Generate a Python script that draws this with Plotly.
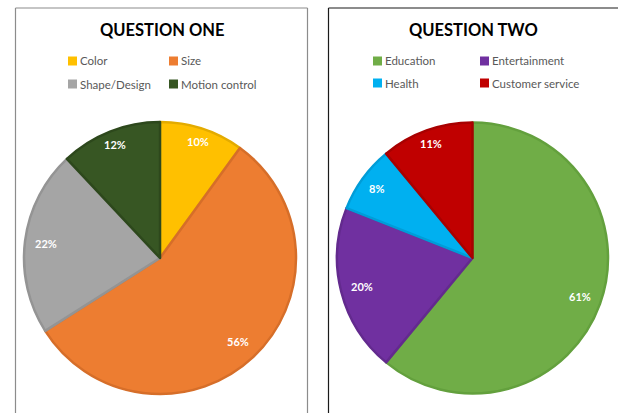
import math
import plotly.graph_objects as go

# Survey results, one pie per question
q1_labels = ["Color", "Size", "Shape/Design", "Motion control"]
q1_values = [10, 56, 22, 12]
q2_labels = ["Education", "Entertainment", "Health", "Customer service"]
q2_values = [61, 20, 8, 11]

q1_colors = ["#FFC000", "#ED7D31", "#A5A5A5", "#375623"]
q1_edges = ["#E3AB00", "#D66E29", "#949494", "#2D481C"]
q2_colors = ["#70AD47", "#7030A0", "#00B0F0", "#C00000"]
q2_edges = ["#63A03D", "#632A8E", "#009DD8", "#A80000"]

W, H = 618, 413
FONT = "Lato, Carlito, Calibri, sans-serif"


def fx(x):
    return x / W


def fy(y):
    return 1 - y / H


panels = [
    dict(title="QUESTION ONE", labels=q1_labels, values=q1_values,
         colors=q1_colors, edges=q1_edges, cx=160, cy=258, r=136,
         title_x=162, leg_sq=[68, 169], rows=[61, 84]),
    dict(title="QUESTION TWO", labels=q2_labels, values=q2_values,
         colors=q2_colors, edges=q2_edges, cx=472.5, cy=258, r=135.5,
         title_x=473, leg_sq=[373, 480], rows=[61, 83]),
]

fig = go.Figure()
annotations = []
shapes = []

for p in panels:
    cx, cy, r = p["cx"], p["cy"], p["r"]
    fig.add_trace(go.Pie(
        labels=p["labels"], values=p["values"],
        sort=False, direction="clockwise", rotation=0,
        marker=dict(colors=p["colors"], line=dict(color=p["edges"], width=2.5)),
        textinfo="none", showlegend=False,
        domain=dict(x=[fx(cx - r), fx(cx + r)], y=[fy(cy + r), fy(cy - r)]),
    ))

    # percentage labels along each slice's mid-angle, pushed a bit further
    # out for slices near the top of the pie
    total = sum(p["values"])
    cum = 0
    for v in p["values"]:
        a = math.radians((cum + v / 2) / total * 360)
        cum += v
        d = r * (0.84 + 0.06 * max(0.0, math.cos(a)))
        annotations.append(dict(
            x=fx(cx + d * math.sin(a)), y=fy(cy - d * math.cos(a)),
            xref="paper", yref="paper", showarrow=False,
            xanchor="center", yanchor="middle",
            text=f"<b>{v}%</b>", font=dict(family=FONT, size=11, color="white"),
        ))

    # panel title
    annotations.append(dict(
        x=fx(p["title_x"]), y=fy(30), xref="paper", yref="paper", showarrow=False,
        xanchor="center", yanchor="middle",
        text=f"<b>{p['title']}</b>", font=dict(family=FONT, size=16.5, color="black"),
    ))

    # two-column legend
    for i, (lab, col) in enumerate(zip(p["labels"], p["colors"])):
        sx = p["leg_sq"][i % 2]
        ry = p["rows"][i // 2]
        shapes.append(dict(
            type="rect", xref="paper", yref="paper",
            x0=fx(sx), x1=fx(sx + 9), y0=fy(ry + 4.5), y1=fy(ry - 4.5),
            fillcolor=col, line=dict(width=0),
        ))
        annotations.append(dict(
            x=fx(sx + 10), y=fy(ry), xref="paper", yref="paper", showarrow=False,
            xanchor="left", yanchor="middle",
            text=lab, font=dict(family=FONT, size=11.5, color="#595959"),
        ))

# chart area frames (bottom and far-right edges run off the page)
for x0, x1, col in [(15.5, 307.5, "#8C8C8C"), (328.5, 640, "#1A1A1A")]:
    for seg in [(x0, 8, x0, 420), (x0, 8, x1, 8), (x1, 8, x1, 420)]:
        shapes.append(dict(
            type="line", xref="paper", yref="paper",
            x0=fx(seg[0]), y0=fy(seg[1]), x1=fx(seg[2]), y1=fy(seg[3]),
            line=dict(color=col, width=1.2),
        ))

fig.update_layout(
    width=W, height=H, autosize=False,
    margin=dict(l=0, r=0, t=0, b=0),
    paper_bgcolor="white", plot_bgcolor="white",
    annotations=annotations, shapes=shapes,
)

fig.write_html("out.html")
